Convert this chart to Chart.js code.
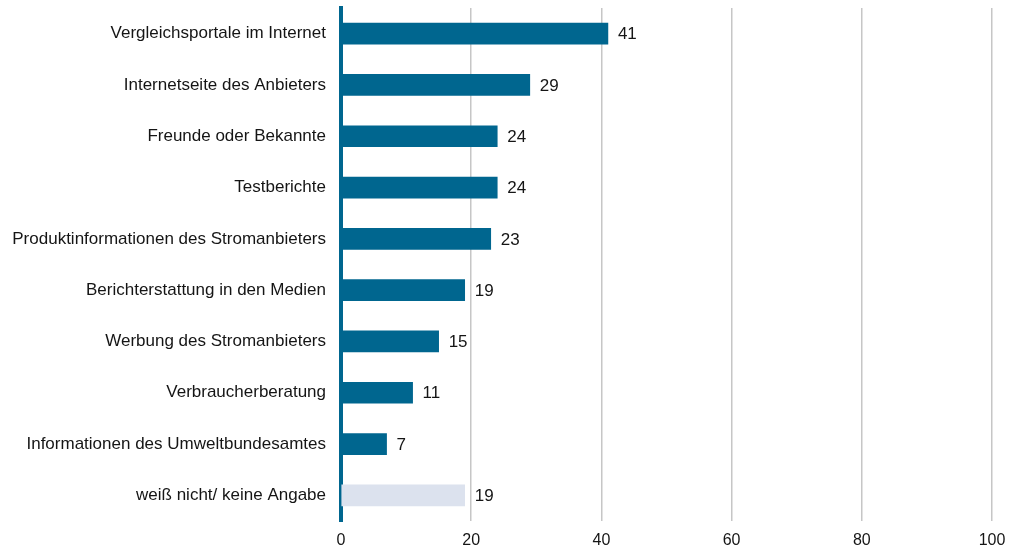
<!DOCTYPE html>
<html>
<head>
<meta charset="utf-8">
<script src="https://cdn.jsdelivr.net/npm/chart.js@4"></script>
<style>
  html, body { margin: 0; padding: 0; background: #ffffff; }
  #wrap { width: 1009px; height: 550px; }
</style>
</head>
<body>
<div id="wrap"><canvas id="sourcesChart" width="1009" height="550"></canvas></div>
<script>
// Informationsquellen bei der Wahl des Stromanbieters (Angaben in %)
const categories = [
    'Vergleichsportale im Internet',
    'Internetseite des Anbieters',
    'Freunde oder Bekannte',
    'Testberichte',
    'Produktinformationen des Stromanbieters',
    'Berichterstattung in den Medien',
    'Werbung des Stromanbieters',
    'Verbraucherberatung',
    'Informationen des Umweltbundesamtes',
    'weiß nicht/ keine Angabe'
];
const shares = [41, 29, 24, 24, 23, 19, 15, 11, 7, 19];
const xTicks = [0, 20, 40, 60, 80, 100];

const barBlue = '#00668f';
const barPale = '#dce2ee';
const textColor = '#151515';
const fontFamily = '"Liberation Sans", Arial, Helvetica, sans-serif';

// writes the value right of each bar
const valueLabels = {
    id: 'valueLabels',
    afterDatasetsDraw(chart) {
        const ctx = chart.ctx;
        const meta = chart.getDatasetMeta(0);
        ctx.save();
        ctx.font = '17px ' + fontFamily;
        ctx.fillStyle = textColor;
        ctx.textAlign = 'left';
        ctx.textBaseline = 'middle';
        meta.data.forEach((bar, i) => {
            ctx.fillText(String(shares[i]), bar.x + 10, bar.y + 1);
        });
        ctx.restore();
    }
};

new Chart(document.getElementById('sourcesChart').getContext('2d'), {
    type: 'bar',
    data: {
        labels: categories,
        datasets: [{
            data: shares,
            backgroundColor: categories.map((c, i) => i === categories.length - 1 ? barPale : barBlue),
            borderWidth: 0,
            barThickness: 21
        }]
    },
    options: {
        indexAxis: 'y',
        responsive: false,
        animation: false,
        layout: { padding: { top: 8, right: 17, bottom: 0, left: 0 } },
        plugins: {
            legend: { display: false },
            tooltip: { enabled: false }
        },
        scales: {
            x: {
                min: 0,
                max: 100,
                afterBuildTicks: scale => { scale.ticks = xTicks.map(v => ({ value: v })); },
                afterFit: scale => {
                    scale.height = 29;
                    scale.paddingLeft = 0;
                    scale.paddingRight = 0;
                },
                grid: {
                    color: ctx => ctx.index === 0 ? 'rgba(0,0,0,0)' : '#c6c6c6',
                    lineWidth: 1.5,
                    drawTicks: false
                },
                border: { display: false },
                ticks: {
                    padding: 10,
                    color: textColor,
                    font: { family: fontFamily, size: 16 }
                }
            },
            y: {
                afterFit: scale => {
                    scale.width = 341;
                    scale.paddingTop = 0;
                    scale.paddingBottom = 0;
                },
                grid: { display: false, drawTicks: false },
                border: { display: true, color: barBlue, width: 4 },
                ticks: {
                    padding: 15,
                    color: textColor,
                    font: { family: fontFamily, size: 17 }
                }
            }
        }
    },
    plugins: [valueLabels]
});
</script>
</body>
</html>
